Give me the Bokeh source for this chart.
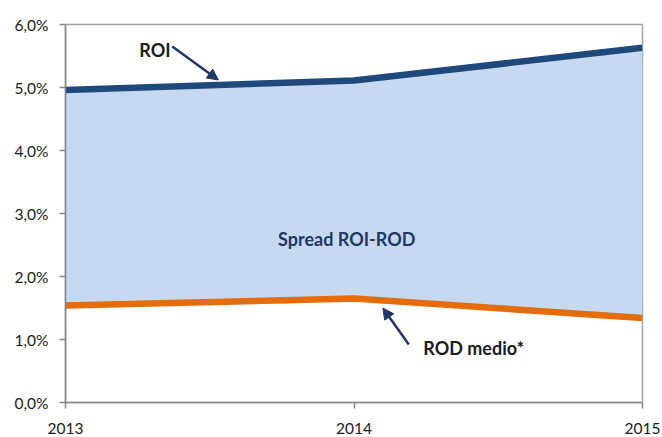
from bokeh.plotting import figure
from bokeh.models import Range1d, FixedTicker, Arrow, NormalHead, Label
from bokeh.embed import file_html
from bokeh.resources import INLINE

years = [2013, 2014, 2015]
roi = [4.96, 5.11, 5.63]
rod = [1.54, 1.65, 1.34]
y_ticks = [0, 1, 2, 3, 4, 5, 6]
y_tick_labels = ["0,0%", "1,0%", "2,0%", "3,0%", "4,0%", "5,0%", "6,0%"]
x_tick_labels = ["2013", "2014", "2015"]

FONT = "Lato"

p = figure(width=662, height=437, output_backend="svg", toolbar_location=None,
           x_range=Range1d(2013, 2015), y_range=Range1d(0, 6))
p.min_border_left = 65
p.min_border_right = 20
p.min_border_top = 24
p.min_border_bottom = 35
p.xgrid.visible = False
p.ygrid.visible = False
p.outline_line_color = "#A6A6A6"
p.outline_line_width = 1.5
p.background_fill_color = "white"
p.border_fill_color = "white"

p.varea(x=years, y1=rod, y2=roi, fill_color="#C6D9F1")
p.line(years, roi, line_color="#1F497D", line_width=6.5)
p.line(years, rod, line_color="#E46C0A", line_width=6.5)

for ax in (p.xaxis[0], p.yaxis[0]):
    ax.axis_line_color = "#868686"
    ax.axis_line_width = 1.5
    ax.major_tick_line_color = "#868686"
    ax.major_tick_line_width = 1.5
    ax.major_tick_in = 0
    ax.major_tick_out = 6
    ax.minor_tick_line_color = None
    ax.major_label_text_font = FONT
    ax.major_label_text_font_size = "15.5px"
    ax.major_label_text_color = "#1a1a1a"

p.yaxis.ticker = FixedTicker(ticks=y_ticks)
p.yaxis.major_label_overrides = {t: l for t, l in zip(y_ticks, y_tick_labels)}
p.yaxis.major_label_standoff = 11
p.xaxis.ticker = FixedTicker(ticks=years)
p.xaxis.major_label_overrides = {t: l for t, l in zip(years, x_tick_labels)}
p.xaxis.major_label_standoff = 14

navy = "#1F3864"
p.add_layout(Label(x=2013.31, y=5.59, text="ROI", text_font=FONT, text_font_size="18px",
                   text_font_style="bold", text_color="#1a1a1a",
                   text_align="center", text_baseline="middle"))
p.add_layout(Label(x=2013.975, y=2.60, text="Spread ROI-ROD", text_font=FONT, text_font_size="18px",
                   text_font_style="bold", text_color=navy,
                   text_align="center", text_baseline="middle"))
p.add_layout(Label(x=2014.415, y=0.87, text="ROD medio*", text_font=FONT, text_font_size="18px",
                   text_font_style="bold", text_color="#1a1a1a",
                   text_align="center", text_baseline="middle"))

p.add_layout(Arrow(x_start=2013.37, y_start=5.65, x_end=2013.53, y_end=5.12,
                   line_color=navy, line_width=2.5,
                   end=NormalHead(size=11, fill_color=navy, line_color=navy)))
p.add_layout(Arrow(x_start=2014.19, y_start=0.92, x_end=2014.10, y_end=1.50,
                   line_color=navy, line_width=2.5,
                   end=NormalHead(size=11, fill_color=navy, line_color=navy)))

open("out.html", "w").write(file_html(p, INLINE))
